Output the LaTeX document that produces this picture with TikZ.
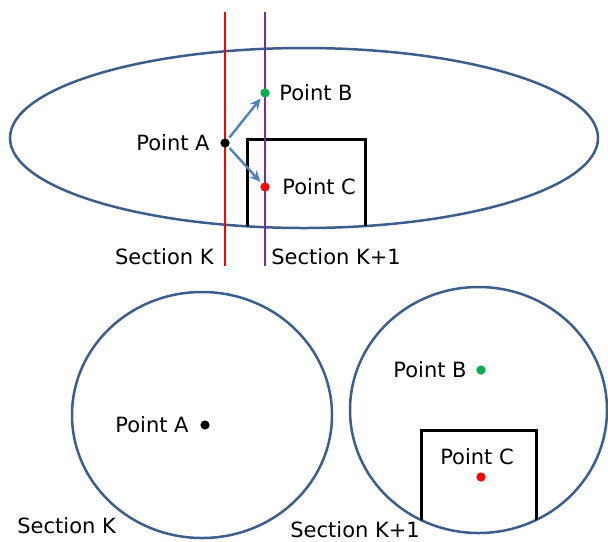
\documentclass[tikz,border=0pt]{standalone}
\usepackage{fontspec}
\setmainfont{DejaVu Sans}
\usetikzlibrary{arrows.meta,positioning}
\definecolor{clOutline}{HTML}{3B5E8C}
\definecolor{clSecK}{HTML}{FF0000}
\definecolor{clSecNext}{HTML}{7030A0}
\definecolor{clPtB}{HTML}{00B050}
\definecolor{clPtC}{HTML}{FF0000}
\definecolor{clMove}{HTML}{4F81BD}
\tikzset{
  outline/.style={draw=clOutline, line width=1.25pt},
  obstacle/.style={draw=black, line width=1.5pt},
  cut/.style={line width=1.3pt},
  pt/.style={circle, inner sep=0pt, minimum size=4.6pt},
  lbl/.style={inner sep=0pt, font=\fontsize{10.5}{12}\selectfont},
  move/.style={-{Stealth[length=5.5pt, width=5pt]}, draw=clMove, line width=1.2pt,
               shorten <=1pt, shorten >=1pt},
}

\begin{document}
\begin{tikzpicture}[x=0.5pt, y=-0.5pt]
  \useasboundingbox (0,0) rectangle (608,541);

  % side view: body, obstacle and the two cutting planes
  \draw[outline] (304,138) ellipse [x radius=294, y radius=90];
  \begin{scope}
    \clip (304,138) ellipse [x radius=294, y radius=90];
    \draw[obstacle] (247,260) |- (365,139) -- (365,260);
  \end{scope}
  \draw[cut, clSecK] (225,12) -- (225,266);
  \draw[cut, clSecNext] (265,12) -- (265,266);

  \node[pt, fill=black] (ptA) at (225,143) {};
  \node[pt, fill=clPtB] (ptB) at (265,93) {};
  \node[pt, fill=clPtC] (ptC) at (265,187) {};
  \node[lbl, left=5pt of ptA] (labA) {Point A};
  \node[lbl, right=4.5pt of ptB] (labB) {Point B};
  \node[lbl, right=6pt of ptC] (labC) {Point C};
  \draw[move] (ptA) -- (ptB);
  \draw[move] (ptA) -- (ptC);

  \node[lbl, anchor=east] (secK) at (214,257) {Section K};
  \node[lbl, anchor=west] (secNext) at (271,257) {Section K+1};

  % cross section K
  \draw[outline] (202,415) ellipse [x radius=130, y radius=123];
  \node[pt, fill=black] (cutA) at (205,425) {};
  \node[lbl, left=5.5pt of cutA] (cutlabA) {Point A};
  \node[lbl, anchor=west] (cutK) at (17,526) {Section K};

  % cross section K+1
  \draw[outline] (478.5,410) ellipse [x radius=128.5, y radius=123];
  \begin{scope}
    \clip (478.5,410) ellipse [x radius=128.5, y radius=123];
    \draw[obstacle] (421,560) |- (536,430) -- (536,560);
  \end{scope}
  \node[pt, fill=clPtB] (cutB) at (481,370) {};
  \node[lbl, left=4.5pt of cutB] (cutlabB) {Point B};
  \node[pt, fill=clPtC] (cutC) at (481,477) {};
  \node[lbl, above=3.5pt of cutC, xshift=-2pt] (cutlabC) {Point C};
  \node[lbl, anchor=west] (cutNext) at (290,530) {Section K+1};
\end{tikzpicture}
\end{document}
